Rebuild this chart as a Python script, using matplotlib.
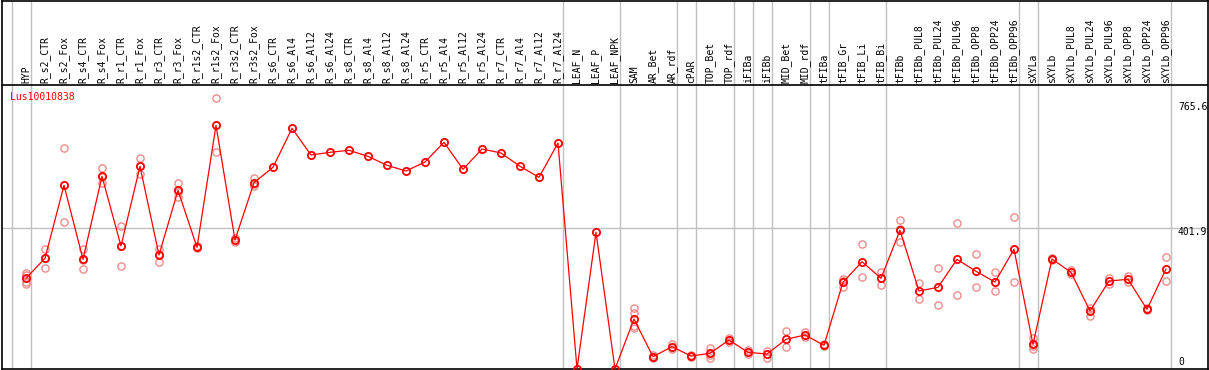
import matplotlib
matplotlib.use("Agg")
from matplotlib import pyplot as plt

gene = "Lus10010838"

samples = ["HYP", "R_s2_CTR", "R_s2_Fox", "R_s4_CTR", "R_s4_Fox", "R_r1_CTR", "R_r1_Fox",
           "R_r3_CTR", "R_r3_Fox", "R_r1s2_CTR", "R_r1s2_Fox", "R_r3s2_CTR", "R_r3s2_Fox",
           "R_s6_CTR", "R_s6_Al4", "R_s6_Al12", "R_s6_Al24", "R_s8_CTR", "R_s8_Al4",
           "R_s8_Al12", "R_s8_Al24", "R_r5_CTR", "R_r5_Al4", "R_r5_Al12", "R_r5_Al24",
           "R_r7_CTR", "R_r7_Al4", "R_r7_Al12", "R_r7_Al24", "LEAF_N", "LEAF_P", "LEAF_NPK",
           "SAM", "AR_Bet", "AR_rdf", "cPAR", "TOP_Bet", "TOP_rdf", "iFIBa", "iFIBb",
           "MID_Bet", "MID_rdf", "tFIBa", "tFIB_Gr", "tFIB_Li", "tFIB_Bi", "tFIBb",
           "tFIBb_PUL8", "tFIBb_PUL24", "tFIBb_PUL96", "tFIBb_OPP8", "tFIBb_OPP24",
           "tFIBb_OPP96", "sXYLa", "sXYLb", "sXYLb_PUL8", "sXYLb_PUL24", "sXYLb_PUL96",
           "sXYLb_OPP8", "sXYLb_OPP24", "sXYLb_OPP96"]

means = [258.7, 315.7, 524, 312.8, 549.6, 350.8, 578.1, 325.2, 509.6, 347,
         695, 368, 531.4, 575.3, 686.5, 610.4, 618, 623.8, 606.6, 581,
         564.7, 590.4, 646.6, 569.6, 627.5, 616.1, 578.1, 546.8, 644.6, 0,
         389.9, 0, 142.6, 35.2, 63.7, 37, 44.7, 82.7, 47.5, 42.8,
         84.7, 97, 67.6, 247.3, 306, 258.7, 395.6, 222.5, 233, 312.8,
         278.7, 248, 341.4, 70.4, 313.7, 275.8, 165.4, 251, 255.8, 170.3, 285.2]

replicates = [
    [274.7, 268, 249, 242], [342, 287, 318], [629.5, 418.4], [342, 284.3, 312],
    [572.4, 529.6, 547], [407.9, 293.8, 351], [601, 555.3, 578], [342, 306, 328],
    [531.4, 491.4, 506], [350, 344], [772, 618], [373, 363], [545.7, 522, 527],
    [], [], [], [], [], [], [], [], [], [], [], [], [], [], [], [], [], [], [],
    [173, 159, 124, 116], [40, 31, 35], [71, 56], [39, 35], [60.8, 32.3, 41],
    [88.4, 76], [54, 42.8], [52, 31.4], [107.5, 61.9], [106.4, 90.4], [70, 65],
    [256.7, 233, 252], [355.7, 261.5], [275.8, 239.6, 260], [425, 363, 398],
    [244.4, 198.8], [287.2, 181.7], [415.5, 210.2], [328, 233], [275.8, 222.5],
    [432.7, 248], [87.6, 56.2, 67], [317, 310], [282.4, 270], [174.8, 151.2],
    [259.5, 243.3], [265.2, 248], [173, 168], [319.4, 250.1]]

# group separators sit just right of these sample indices
separators = [-1, 0, 28, 31, 34, 35, 37, 38, 39, 41, 42, 45, 52, 53, 60]
scale_labels = [765.6, 401.9, 0]

mono = "DejaVu Sans Mono"
W, H = 1209, 370
fig = plt.figure(figsize=(W / 100, H / 100), dpi=100)
ax = fig.add_axes([1.5 / W, 1 / H, (1208 - 1.5) / W, (369 - 0.5) / H])

px_per_unit = 0.3506
ax.set_xlim((1.5 - 26) / 19, (1208 - 26) / 19)
ax.set_ylim(0, (369 - 0.5) / px_per_unit)
ax.set_xticks([])
ax.set_yticks([])
for s in ax.spines.values():
    s.set_linewidth(1.2)
    s.set_color("black")

top_of_plot = (369 - 85) / px_per_unit
ax.axhline(top_of_plot, color="black", lw=1.2)
ax.axhline(401.9, color="#c0c0c0", lw=1.0, zorder=1)
for sep in separators:
    ax.axvline(sep + 0.25, color="#c0c0c0", lw=1.0, zorder=1)

xs = list(range(len(samples)))
for i, reps in enumerate(replicates):
    ax.plot([i] * len(reps), reps, linestyle="none", marker="o", ms=5.2,
            mfc="none", mec="#ee8c8c", mew=1.0, zorder=2)

ax.plot(xs, means, color="red", lw=0.9, marker="o", ms=5.2, mfc="none",
        mec="red", mew=1.3, zorder=3)

label_base = (369 - 83) / px_per_unit
for i, name in enumerate(samples):
    ax.text(i, label_base, name, rotation=90, ha="center", va="bottom",
            fontsize=7, family=mono, color="black")

ax.text((10 - 26) / 19, (369 - 97) / px_per_unit, gene, ha="left", va="center",
        fontsize=7, family=mono, color="red")

label_y = {765.6: 106.7, 401.9: 232.3, 0: 362}
for v in scale_labels:
    ax.text((1178 - 26) / 19, (369 - label_y[v]) / px_per_unit, f"{v:g}",
            ha="left", va="center", fontsize=7, family=mono, color="black")

fig.savefig("out.png", dpi=100)
